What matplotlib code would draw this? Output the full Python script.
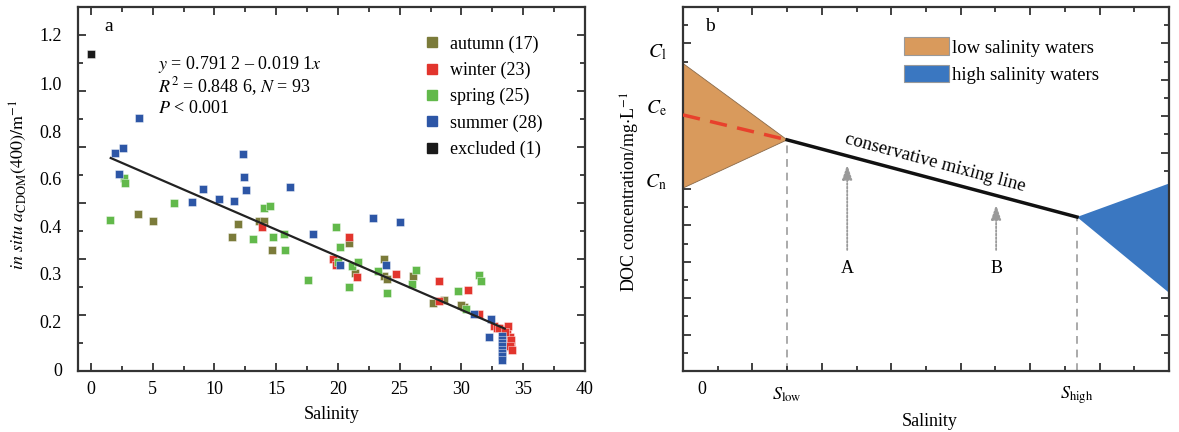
import matplotlib
matplotlib.use("Agg")
import matplotlib.pyplot as plt
from matplotlib.patches import Polygon, Patch
from matplotlib.lines import Line2D
import numpy as np

plt.rcParams['font.family'] = ['Liberation Serif', 'DejaVu Serif']
plt.rcParams['mathtext.fontset'] = 'stix'

# ---- panel a data ----
autumn_x = [3.79, 5.0, 11.9, 11.4, 13.6, 13.98, 14.65, 20.9, 21.4, 23.7, 23.7, 24.0, 26.1, 27.7, 28.6, 30.2, 30.0]
autumn_y = [0.561, 0.535, 0.525, 0.477, 0.536, 0.536, 0.433, 0.456, 0.349, 0.399, 0.341, 0.329, 0.339, 0.242, 0.254, 0.23, 0.235]

winter_x = [13.84, 20.9, 19.6, 19.8, 21.5, 24.7, 28.15, 28.2, 30.5, 31.45, 32.6, 32.85, 33.3, 33.65, 33.8,
            33.9, 33.9, 34.0, 33.0, 33.5, 34.0, 33.95, 34.05]
winter_y = [0.515, 0.48, 0.4, 0.379, 0.337, 0.346, 0.321, 0.251, 0.29, 0.204, 0.161, 0.153, 0.149, 0.146, 0.162,
            0.122, 0.101, 0.085, 0.155, 0.14, 0.11, 0.09, 0.075]

spring_x = [2.69, 2.77, 1.53, 6.72, 13.1, 13.98, 14.46, 14.7, 15.6, 15.7, 17.55, 19.8, 20.2, 20.9, 21.1, 21.6,
            23.25, 24.0, 26.3, 26.0, 29.7, 31.4, 31.6, 30.4, 20.0]
spring_y = [0.691, 0.671, 0.538, 0.601, 0.471, 0.583, 0.589, 0.477, 0.491, 0.431, 0.325, 0.513, 0.442, 0.301,
            0.375, 0.39, 0.358, 0.277, 0.361, 0.311, 0.286, 0.342, 0.322, 0.222, 0.39]

summer_x = [3.85, 1.94, 2.61, 2.29, 8.15, 9.11, 10.4, 11.6, 12.3, 12.4, 12.55, 16.1, 17.96, 20.2, 22.8, 25.05,
            23.9, 31.0, 32.4, 32.2, 33.3, 33.3, 33.3, 33.3, 33.3, 33.3, 33.3, 33.3]
summer_y = [0.905, 0.777, 0.795, 0.705, 0.605, 0.649, 0.616, 0.607, 0.774, 0.693, 0.645, 0.658, 0.488, 0.377,
            0.548, 0.532, 0.38, 0.205, 0.185, 0.12, 0.125, 0.112, 0.1, 0.088, 0.076, 0.064, 0.052, 0.04]

excluded_x = [0.0]
excluded_y = [1.132]

seasons = ['autumn (17)', 'winter (23)', 'spring (25)', 'summer (28)', 'excluded (1)']
season_colors = ['#7b7b3a', '#e2352d', '#62b94b', '#2d56a6', '#1a1a1a']

fit_a, fit_b = 0.7912, -0.0191
fit_range = [1.6, 33.5]

# tick labels of panel a (the original figure has them placed unevenly)
ytick_labels_a = ['1.2', '1.0', '0.8', '0.6', '0.4', '0.3', '0.2', '0']
ytick_pos_a = [1.193, 1.02, 0.85, 0.68, 0.51, 0.34, 0.17, 0.0]

# ---- panel b (schematic) ----
s_low, s_high = 3.0, 11.35
c_top, c_e, c_bot = 16.9, 14.07, 10.05
c_low_end = 12.7      # DOC at S_low
c_high_end = 8.46     # DOC at S_high
high_top, high_bot = 10.3, 4.3
arrow_A = (4.73, 6.5, 11.5)
arrow_B = (9.02, 6.5, 9.3)
clabels = [r'$C_{\rm l}$', r'$C_{\rm e}$', r'$C_{\rm n}$']
clabel_pos = [17.5, 14.45, 10.4]

orange = '#d99a5c'
blue = '#3a77c1'

fig = plt.figure(figsize=(11.79, 4.32), dpi=100)
W, H = 1179, 432
ax = fig.add_axes([78 / W, 1 - 371 / H, (585 - 78) / W, (371 - 7) / H])
bx = fig.add_axes([683 / W, 1 - 371 / H, (1169 - 683) / W, (371 - 7) / H])

for a in (ax, bx):
    for sp in a.spines.values():
        sp.set_linewidth(1.6)
        sp.set_color('#333333')
    a.tick_params(which='both', direction='in', top=True, right=True, color='#333333', width=1.3)
    a.tick_params(which='major', length=6)
    a.tick_params(which='minor', length=3.5)

# ---- panel a ----
ms = 36
for xs, ys, c in zip([autumn_x, winter_x, spring_x, summer_x, excluded_x],
                     [autumn_y, winter_y, spring_y, summer_y, excluded_y], season_colors):
    ax.scatter(xs, ys, marker='s', s=ms, color=c, linewidths=0.6, edgecolors='#ffffff80', zorder=3)

xf = np.array(fit_range)
ax.plot(xf, fit_a + fit_b * xf, color='#222222', lw=1.6, zorder=4)

ax.set_xlim(-1.05, 39.9)
ax.set_ylim(0, 1.3)
ax.set_xticks(np.arange(0, 41, 5))
ax.set_xticks(np.arange(0, 40, 2.5), minor=True)
ax.set_yticks(np.arange(0, 1.31, 0.2))
ax.set_yticks(np.arange(0, 1.31, 0.1), minor=True)
ax.tick_params(axis='x', labelsize=13, pad=7)
ax.set_yticklabels([])
ytr = ax.get_yaxis_transform()
for lab, p in zip(ytick_labels_a, ytick_pos_a):
    ax.text(-0.032, p, lab, transform=ytr, ha='right', va='center', fontsize=13)

ax.text(0.052, 0.935, 'a', transform=ax.transAxes, fontsize=14)
ax.text(0.158, 0.841, r'$y$ = 0.791 2 – 0.019 1$x$', transform=ax.transAxes, fontsize=13, va='center')
ax.text(0.158, 0.780, r'$R^{2}$ = 0.848 6, $N$ = 93', transform=ax.transAxes, fontsize=13, va='center')
ax.text(0.158, 0.722, r'$P$ < 0.001', transform=ax.transAxes, fontsize=13, va='center')

handles = [Line2D([], [], marker='s', ls='', color=c, markersize=6.5) for c in season_colors]
ax.legend(handles, seasons, loc='upper left', bbox_to_anchor=(0.649, 0.967), frameon=False,
          fontsize=13, handlelength=1.0, handletextpad=0.5, labelspacing=0.5, borderpad=0.4)

ax.set_xlabel('Salinity', fontsize=13, labelpad=6)
fig.text(18 / W, 1 - 185 / H, r'$\mathit{in\ situ\ a}_{\rm CDOM}\mathrm{(400)/m^{-1}}$',
         rotation=90, ha='center', va='center', fontsize=13)

# ---- panel b ----
bx.set_xlim(0, 14)
bx.set_ylim(0, 20)
bx.set_xticks(np.arange(0, 15, 2))
bx.set_xticks(np.arange(0, 15, 1), minor=True)
bx.set_yticks(np.arange(0, 21, 2))
bx.set_yticks(np.arange(0, 21, 1), minor=True)
bx.set_xticklabels([])
bx.set_yticklabels([])

bx.add_patch(Polygon([(0, c_top), (s_low, c_low_end), (0, c_bot)], closed=True,
                     facecolor=orange, edgecolor='#8a6a4a', lw=0.6, zorder=2))
bx.add_patch(Polygon([(s_high, c_high_end), (14.5, high_top + 0.5 * (high_top - c_high_end) / (14 - s_high)),
                      (14.5, high_bot - 0.5 * (c_high_end - high_bot) / (14 - s_high))], closed=True,
                     facecolor=blue, edgecolor='none', zorder=2, clip_on=True))
bx.plot([0, s_low], [c_e, c_low_end], color='#e8412c', lw=2.5, dashes=(5, 3), zorder=3)
bx.plot([s_low, s_high], [c_low_end, c_high_end], color='#111111', lw=2.5, zorder=3)
bx.plot([s_low, s_low], [0, c_low_end], color='#aaaaaa', lw=1.4, dashes=(4, 3), zorder=1)
bx.plot([s_high, s_high], [0, c_high_end], color='#aaaaaa', lw=1.4, dashes=(4, 3), zorder=1)

for (x0, y0, y1), name in zip([arrow_A, arrow_B], ['A', 'B']):
    bx.annotate('', xy=(x0, y1), xytext=(x0, y0),
                arrowprops=dict(arrowstyle='-|>,head_width=0.3,head_length=0.9', color='#9a9a9a',
                                lw=1.3, ls=(0, (1, 1))))
    bx.text(x0, y0 - 0.85, name, ha='center', va='center', fontsize=13)

bx.text(7.26, 11.45, 'conservative mixing line', rotation=-15, ha='center', va='center',
        rotation_mode='anchor', fontsize=13.5)

xtr = bx.get_xaxis_transform()
bx.text(0.55, -0.052, '0', transform=xtr, ha='center', va='center', fontsize=13)
bx.text(s_low, -0.066, r'$S_{\rm low}$', transform=xtr, ha='center', va='center', fontsize=13)
bx.text(s_high, -0.066, r'$S_{\rm high}$', transform=xtr, ha='center', va='center', fontsize=13)
btr = bx.get_yaxis_transform()
for lab, p in zip(clabels, clabel_pos):
    bx.text(-0.033, p, lab, transform=btr, ha='right', va='center', fontsize=14)

bx.text(0.045, 0.935, 'b', transform=bx.transAxes, fontsize=14)
leg_handles = [Patch(facecolor=orange, edgecolor='#999999', lw=0.8),
               Patch(facecolor=blue, edgecolor='#999999', lw=0.8)]
bx.legend(leg_handles, ['low salinity waters', 'high salinity waters'], loc='upper left',
          bbox_to_anchor=(0.421, 0.963), frameon=False, fontsize=13.5, handlelength=2.4,
          handleheight=1.07, handletextpad=0.16, labelspacing=0.43, borderpad=0.4)

fig.text(930 / W, 1 - 421 / H, 'Salinity', ha='center', va='center', fontsize=13)
fig.text(630 / W, 1 - 192 / H, r'DOC concentration/mg$\cdot$L$^{-1}$', rotation=90,
         ha='center', va='center', fontsize=13)

fig.savefig('out.png', dpi=100)
